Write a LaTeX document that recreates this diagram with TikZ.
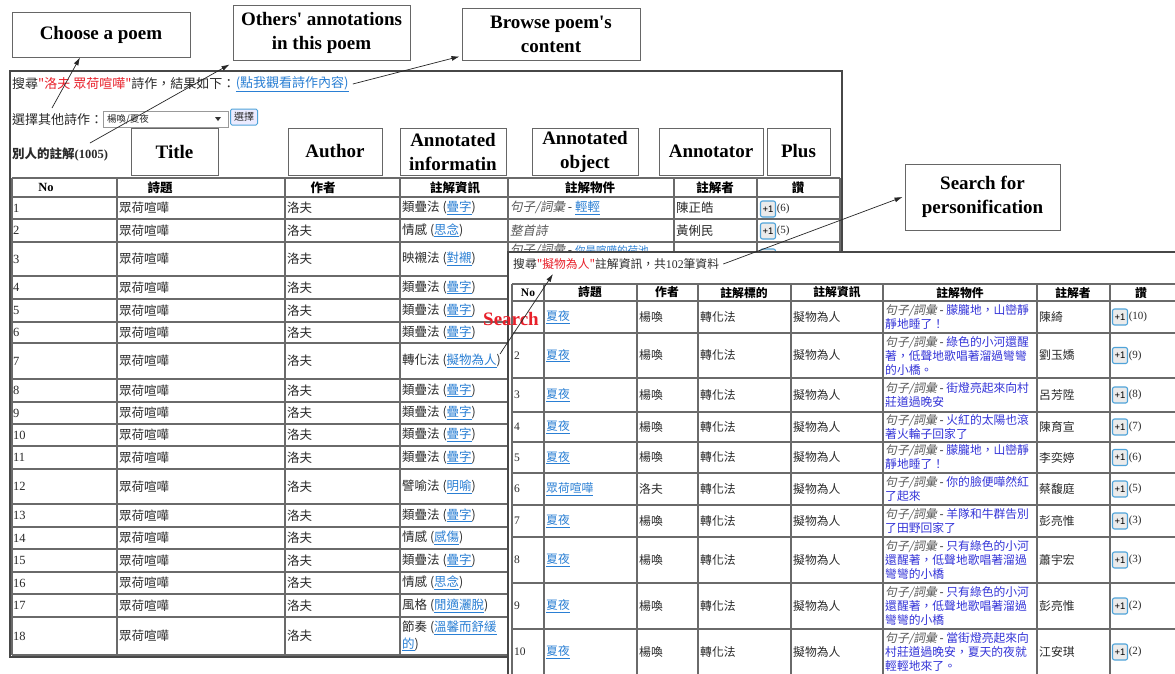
\documentclass[tikz,border=0pt]{standalone}
\usepackage{fontspec}
\setmainfont{Liberation Serif}
\setsansfont{Liberation Sans}
\newfontfamily\cjk{Noto Sans CJK TC}
\newfontfamily\cjkit[FakeSlant=0.2]{Noto Sans CJK TC}
\usetikzlibrary{arrows.meta,calc}
\definecolor{redq}{HTML}{E8202A}
\definecolor{lnk}{HTML}{2A7FD4}
\definecolor{objb}{HTML}{3434D8}
\definecolor{txt}{HTML}{2A2A2A}
\definecolor{gridc}{HTML}{6A6A6A}
\definecolor{btnb}{HTML}{4FA3D9}
\newcommand\lk[1]{\textcolor{lnk}{\underline{#1}}}
\newcommand\ob[1]{\textcolor{objb}{#1}}
\newcommand\slt[1]{{\cjkit\color{black!65}#1}}
\tikzset{
 frame/.style={draw=black!72, line width=1.8pt},
 gridl/.style={draw=gridc, line width=1.1pt},
 callout/.style={draw=black!60, line width=0.9pt, fill=white, inner sep=2pt, align=center,
   font=\rmfamily\bfseries\fontsize{19}{24}\selectfont},
 arr/.style={-{Latex[length=8pt,width=5pt]}, line width=0.7pt, draw=black!85},
 cl/.style={anchor=west, inner sep=0pt, text=txt, align=left, font=\cjk\fontsize{12.5}{17}\selectfont},
 cr/.style={anchor=west, inner sep=0pt, text=txt, align=left, font=\cjk\fontsize{11.8}{14}\selectfont},
 hl/.style={inner sep=0pt, text=black, font=\cjk\bfseries\fontsize{12.5}{14}\selectfont},
 hr/.style={inner sep=0pt, text=black, font=\cjk\bfseries\fontsize{11.8}{13}\selectfont},
 pbtn/.style={draw=btnb, fill=black!8, rounded corners=2pt, line width=1.1pt, minimum width=15pt,
   minimum height=16pt, inner sep=0pt, font=\sffamily\fontsize{9.5}{10}\selectfont},
 cnt/.style={anchor=west, inner sep=0.5pt, font=\rmfamily\fontsize{11}{12}\selectfont, text=txt},
}
\newcommand\lrow[3]{%
 \node[cl, font=\rmfamily\fontsize{12.5}{14}\selectfont] (ln#1) at (13,#2) {#1};
 \node[cl] (lt#1) at (119,#2) {眾荷喧嘩};
 \node[cl] (la#1) at (287,#2) {洛夫};
 \node[cl] (li#1) at (402,#2) {#3};
}
\newcommand\rrow[8]{%
 \node[cr, font=\rmfamily\fontsize{11.5}{13}\selectfont] (rn#1) at (514,#2) {#8};
 \node[cr] (rt#1) at (546,#2) {\lk{#3}};
 \node[cr] (ra#1) at (639,#2) {#4};
 \node[cr] (rk#1) at (700,#2) {轉化法};
 \node[cr] (ri#1) at (793,#2) {擬物為人};
 \node[cr] (ro#1) at (885,#2) {#5};
 \node[cr] (rp#1) at (1039,#2) {#6};
 \node[pbtn] (rb#1) at (1120,#2) {+1};
 \node[cnt] (rc#1) at (rb#1.east) {(#7)};
}
\begin{document}
\begin{tikzpicture}[x=1pt,y=-1pt]
\useasboundingbox (0,0) rectangle (1175,673);
\fill[white] (0,0) rectangle (1175,673);

% ---------- left page ----------
\draw[frame] (10,71) rectangle (842,657);
\node[cl, font=\cjk\fontsize{13}{15}\selectfont] (lq) at (12,84) {搜尋\textcolor{redq}{"洛夫 眾荷喧嘩"}詩作，結果如下：};
\node[cl, font=\cjk\fontsize{13}{15}\selectfont] (lqlink) at (lq.east) {\lk{(點我觀看詩作內容)}};
\node[cl, font=\cjk\fontsize{13}{15}\selectfont] (sel) at (12,120) {選擇其他詩作：};
\node[draw=black!40, fill=white, minimum width=125pt, minimum height=16pt, inner sep=0pt] (dd) at (165.5,119) {};
\node[anchor=west, inner sep=0pt, text=txt, font=\cjk\fontsize{9.5}{10}\selectfont] (ddt) at (107,119) {楊喚/夏夜};
\fill[black!80] (215,117) -- (221,117) -- (218,121) -- cycle;
\node[draw=btnb, fill=blue!8, rounded corners=1.5pt, line width=1pt, text=txt, font=\cjk\fontsize{10}{11}\selectfont, inner sep=0pt, minimum width=27pt, minimum height=16pt] (selbtn) at (244,117) {選擇};
\node[cl, font=\cjk\bfseries\fontsize{12.5}{14}\selectfont] (ann) at (12,154) {別人的註解{\rmfamily\bfseries(1005)}};

\foreach \y in {178,197,219,242,276,299,322,343,379,402,424,446,469,504,527,549,572,594,617,655}
  \draw[gridl] (12,\y) -- (840,\y);
\foreach \x in {12,117,285,400,508,674,757,840}
  \draw[gridl] (\x,178) -- (\x,655);

\node[hl, font=\rmfamily\bfseries\fontsize{12.5}{14}\selectfont] (lh1) at (46,187.5) {No};
\node[hl] (lh2) at (160,187.5) {詩題};
\node[hl] (lh3) at (323,187.5) {作者};
\node[hl] (lh4) at (455,187.5) {註解資訊};
\node[hl] (lh5) at (590,187.5) {註解物件};
\node[hl] (lh6) at (715,187.5) {註解者};
\node[hl] (lh7) at (798,187.5) {讚};

\lrow{1}{208}{類疊法 (\lk{疊字})}
\lrow{2}{230.5}{情感 (\lk{思念})}
\lrow{3}{259}{映襯法 (\lk{對襯})}
\lrow{4}{287.5}{類疊法 (\lk{疊字})}
\lrow{5}{310.5}{類疊法 (\lk{疊字})}
\lrow{6}{332.5}{類疊法 (\lk{疊字})}
\lrow{7}{361}{轉化法 (\lk{擬物為人})}
\lrow{8}{390.5}{類疊法 (\lk{疊字})}
\lrow{9}{413}{類疊法 (\lk{疊字})}
\lrow{10}{435}{類疊法 (\lk{疊字})}
\lrow{11}{457.5}{類疊法 (\lk{疊字})}
\lrow{12}{486.5}{譬喻法 (\lk{明喻})}
\lrow{13}{515.5}{類疊法 (\lk{疊字})}
\lrow{14}{538}{情感 (\lk{感傷})}
\lrow{15}{560.5}{類疊法 (\lk{疊字})}
\lrow{16}{583}{情感 (\lk{思念})}
\lrow{17}{605.5}{風格 (\lk{閒適灑脫})}
\lrow{18}{636}{節奏 (\lk{溫馨而舒緩}\\\lk{的})}

\node[cl] (lo1) at (510,208) {\slt{句子/詞彙} - \lk{輕輕}};
\node[cl] (lr1) at (676,208) {陳正皓};
\node[pbtn] (lb1) at (768,209) {+1};
\node[cnt] (lc1) at (lb1.east) {(6)};
\node[cl] (lo2) at (510,230.5) {\slt{整首詩}};
\node[cl] (lr2) at (676,230.5) {黃俐民};
\node[pbtn] (lb2) at (768,231) {+1};
\node[cnt] (lc2) at (lb2.east) {(5)};
\node[cl] (lo3) at (510,251) {\slt{句子/詞彙} - {\fontsize{10.5}{12}\selectfont\lk{你是喧嘩的荷池}}};
\node[pbtn] (lb3) at (768,257) {+1};

% ---------- right page ----------
\fill[white] (508,252) rectangle (1180,680);
\draw[frame] (1180,252) -- (508,252) -- (508,680);
\node[cr] (rq) at (513,264) {搜尋\textcolor{redq}{"擬物為人"}註解資訊，共{\rmfamily 102}筆資料};
\foreach \y in {284,301,333,378,412,442,473,505,537,583,629}
  \draw[gridl] (512,\y) -- (1180,\y);
\foreach \x in {512,544,637,698,791,883,1037,1110}
  \draw[gridl] (\x,284) -- (\x,680);

\node[hr, font=\rmfamily\bfseries\fontsize{11.5}{13}\selectfont] (rh1) at (528,292.5) {No};
\node[hr] (rh2) at (590,292.5) {詩題};
\node[hr] (rh3) at (667,292.5) {作者};
\node[hr] (rh4) at (744,292.5) {註解標的};
\node[hr] (rh5) at (837,292.5) {註解資訊};
\node[hr] (rh6) at (960,292.5) {註解物件};
\node[hr] (rh7) at (1073,292.5) {註解者};
\node[hr] (rh8) at (1141,292.5) {讚};

\rrow{1}{317}{夏夜}{楊喚}{\slt{句子/詞彙} - \ob{朦朧地，山巒靜}\\\ob{靜地睡了！}}{陳綺}{10}{}
\rrow{2}{355.5}{夏夜}{楊喚}{\slt{句子/詞彙} - \ob{綠色的小河還醒}\\\ob{著，低聲地歌唱著溜過彎彎}\\\ob{的小橋。}}{劉玉嬌}{9}{2}
\rrow{3}{395}{夏夜}{楊喚}{\slt{句子/詞彙} - \ob{街燈亮起來向村}\\\ob{莊道過晚安}}{呂芳陞}{8}{3}
\rrow{4}{427}{夏夜}{楊喚}{\slt{句子/詞彙} - \ob{火紅的太陽也滾}\\\ob{著火輪子回家了}}{陳育宣}{7}{4}
\rrow{5}{457.5}{夏夜}{楊喚}{\slt{句子/詞彙} - \ob{朦朧地，山巒靜}\\\ob{靜地睡了！}}{李奕婷}{6}{5}
\rrow{6}{489}{眾荷喧嘩}{洛夫}{\slt{句子/詞彙} - \ob{你的臉便嘩然紅}\\\ob{了起來}}{蔡馥庭}{5}{6}
\rrow{7}{521}{夏夜}{楊喚}{\slt{句子/詞彙} - \ob{羊隊和牛群告別}\\\ob{了田野回家了}}{彭亮惟}{3}{7}
\rrow{8}{560}{夏夜}{楊喚}{\slt{句子/詞彙} - \ob{只有綠色的小河}\\\ob{還醒著，低聲地歌唱著溜過}\\\ob{彎彎的小橋}}{蕭宇宏}{3}{8}
\rrow{9}{606}{夏夜}{楊喚}{\slt{句子/詞彙} - \ob{只有綠色的小河}\\\ob{還醒著，低聲地歌唱著溜過}\\\ob{彎彎的小橋}}{彭亮惟}{2}{9}
\rrow{10}{652}{夏夜}{楊喚}{\slt{句子/詞彙} - \ob{當街燈亮起來向}\\\ob{村莊道過晚安，夏天的夜就}\\\ob{輕輕地來了。}}{江安琪}{2}{10}

% ---------- callouts ----------
\node[callout, minimum width=178pt, minimum height=45pt] (choose) at (101,34.5) {Choose a poem};
\node[callout, minimum width=177pt, minimum height=55pt] (others) at (321.5,32.5) {Others\textquotesingle{} annotations\\in this poem};
\node[callout, minimum width=178pt, minimum height=52pt] (browse) at (551,34) {Browse poem\textquotesingle{}s\\content};
\node[callout, minimum width=87pt, minimum height=47pt] (ctitle) at (174.5,151.5) {Title};
\node[callout, minimum width=94pt, minimum height=47pt] (cauthor) at (335,151.5) {Author};
\node[callout, minimum width=106pt, minimum height=47pt] (cinfo) at (453,151.5) {Annotated\\informatin};
\node[callout, minimum width=106pt, minimum height=47pt] (cobj) at (585,151.5) {Annotated\\object};
\node[callout, minimum width=104pt, minimum height=47pt] (cannot) at (711,151.5) {Annotator};
\node[callout, minimum width=63pt, minimum height=47pt] (cplus) at (798.5,151.5) {Plus};
\node[callout, minimum width=155pt, minimum height=66pt] (search) at (982.5,197) {Search for\\personification};

\node[inner sep=0pt, text=redq, font=\rmfamily\bfseries\fontsize{19}{20}\selectfont] (srch) at (511,319) {Search};

% ---------- arrows ----------
\coordinate (t1) at (52,108);
\coordinate (t2) at (90,143);
\coordinate (t5) at (500,354);
\coordinate (h5) at (553,274);
\draw[arr] (t1) -- ([xshift=-21pt]choose.south);
\draw[arr] (t2) -- ([xshift=-3pt,yshift=-4pt]others.south west);
\draw[arr] ([xshift=4pt]lqlink.east) -- ([xshift=-2pt,yshift=4pt]browse.south west);
\draw[arr] ([xshift=4pt]rq.east) -- ([xshift=-2pt]search.west);
\draw[arr] (t5) -- (h5);
\end{tikzpicture}
\end{document}
